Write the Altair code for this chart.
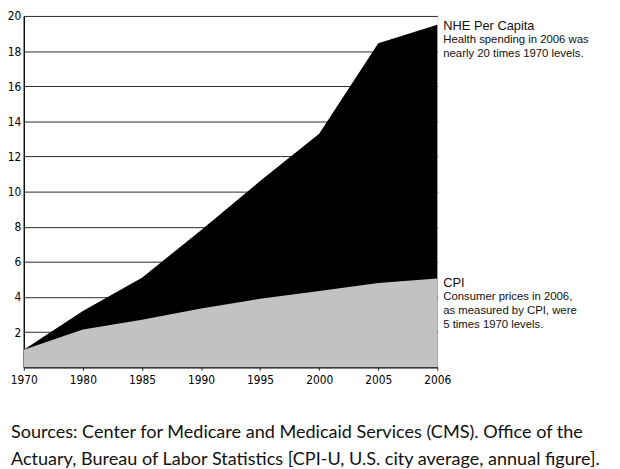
import altair as alt
import pandas as pd

years = ["1970", "1980", "1985", "1990", "1995", "2000", "2005", "2006"]
nhe = [1.0, 3.2, 5.1, 7.8, 10.6, 13.3, 18.45, 19.5]
cpi = [1.0, 2.15, 2.7, 3.35, 3.9, 4.35, 4.8, 5.05]
y_ticks = [2, 4, 6, 8, 10, 12, 14, 16, 18, 20]

nhe_title = "NHE Per Capita"
nhe_body = ["Health spending in 2006 was", "nearly 20 times 1970 levels."]
cpi_title = "CPI"
cpi_body = ["Consumer prices in 2006,", "as measured by CPI, were", "5 times 1970 levels."]
source = [
    "Sources: Center for Medicare and Medicaid Services (CMS). Office of the",
    "Actuary, Bureau of Labor Statistics [CPI-U, U.S. city average, annual figure].",
]

df = pd.DataFrame({"idx": list(range(len(years))), "year": years, "nhe": nhe, "cpi": cpi})
last = len(years) - 1

label_expr = "[" + ",".join(f"'{y}'" for y in years) + "][datum.value]"
axis_font = "Liberation Sans Narrow, DejaVu Sans Condensed, sans-serif"
ann_font = "Liberation Sans, Arial, sans-serif"

x_scale = alt.Scale(domain=[0, last], nice=False, zero=False)
x_axis = alt.Axis(
    values=list(range(len(years))),
    labelExpr=label_expr,
    labelFlush=False,
    labelOverlap=False,
    grid=False,
    title=None,
    tickSize=3,
    tickColor="#222",
    domainColor="#111",
    domainWidth=1.5,
    labelFont=axis_font,
    labelFontSize=12,
    labelColor="#000",
    labelPadding=4,
)

y_scale = alt.Scale(domain=[0, 20], nice=False)
y_axis = alt.Axis(
    values=y_ticks,
    grid=True,
    gridColor="#2a2a2a",
    gridWidth=1,
    ticks=False,
    title=None,
    labelOverlap=False,
    labelFlush=False,
    domainColor="#111",
    domainWidth=1.5,
    labelFont=axis_font,
    labelFontSize=12,
    labelColor="#000",
    labelPadding=3,
)

X = alt.X("idx:Q", scale=x_scale, axis=x_axis)

base = alt.Chart(df)

nhe_area = base.mark_area(color="#000000", opacity=1).encode(
    x=X, y=alt.Y("nhe:Q", scale=y_scale, axis=y_axis),
)
cpi_area = base.mark_area(color="#c2c2c2", opacity=1).encode(
    x=X, y=alt.Y("cpi:Q", scale=y_scale, axis=y_axis),
)

ann_df = pd.DataFrame({
    "idx": [last, last],
    "val": [nhe[-1], cpi[-1]],
    "title": [nhe_title, cpi_title],
    "body": [nhe_body, cpi_body],
})

def txt(rows, dy, size, text_field, baseline):
    return alt.Chart(ann_df.iloc[rows]).mark_text(
        align="left", baseline=baseline, dx=6, dy=dy, font=ann_font,
        fontSize=size, lineHeight=14, color="#111"
    ).encode(
        x=X,
        y=alt.Y("val:Q", scale=y_scale, axis=y_axis),
        text=text_field,
    )

nhe_title_t = txt([0], 1, 13, "title:N", "middle")
nhe_body_t = txt([0], 10, 11.5, "body", "top")
cpi_title_t = txt([1], 5, 13, "title:N", "middle")
cpi_body_t = txt([1], 13, 11.5, "body", "top")

chart = alt.layer(
    nhe_area, cpi_area, nhe_title_t, nhe_body_t, cpi_title_t, cpi_body_t
).properties(
    width=419,
    height=356,
    padding={"left": 16, "top": 5, "right": 177, "bottom": 100},
    autosize=alt.AutoSizeParams(type="none"),
    title=alt.TitleParams(
        text=source,
        orient="bottom",
        anchor="start",
        frame="group",
        font="Lato, Open Sans, sans-serif",
        fontSize=18.3,
        fontWeight="normal",
        color="#111",
        lineHeight=27,
        offset=40,
        dx=-13,
    ),
).configure_view(strokeWidth=0).configure(background="white")

chart.save("out.html", embed_options={"renderer": "svg", "actions": False})
